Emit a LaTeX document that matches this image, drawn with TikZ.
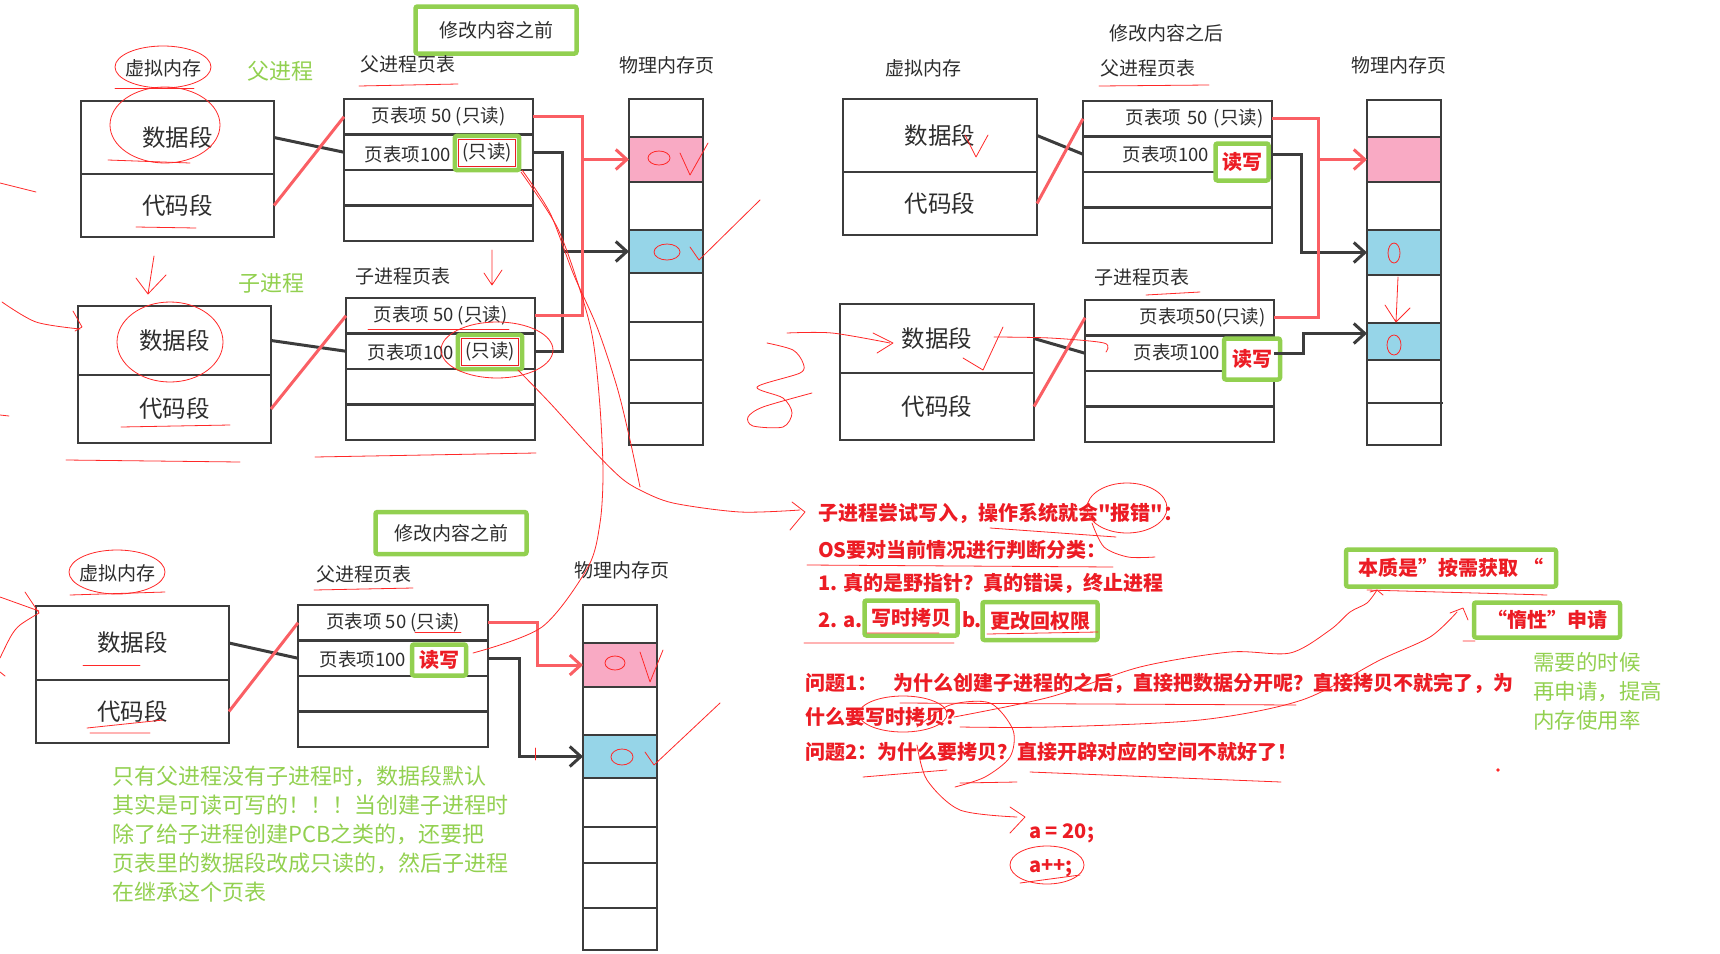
\documentclass[tikz,border=0pt]{standalone}
\usepackage{fontspec}
\setmainfont{Noto Sans CJK SC}[Ligatures=TeXOff]
\usepackage{xcolor}
\usetikzlibrary{positioning, arrows.meta, fit, calc}

\definecolor{boxgreen}{RGB}{146,208,80}
\definecolor{inkred}{RGB}{236,28,36}
\definecolor{penred}{RGB}{255,40,40}
\definecolor{linkred}{RGB}{250,95,100}
\definecolor{frame}{RGB}{60,60,60}
\definecolor{labelgray}{RGB}{45,45,45}
\definecolor{pinkcell}{RGB}{249,170,196}
\definecolor{bluecell}{RGB}{150,213,232}

\begin{document}
\begin{tikzpicture}[
    x=1pt, y=-1pt,
    lbl/.style={text=labelgray, font=\fontsize{19}{19}\selectfont, inner sep=1pt},
    glbl/.style={text=boxgreen, font=\fontsize{22}{22}\selectfont, inner sep=1pt},
    seg/.style={
        draw=frame, line width=2.5pt, minimum width=193, outer sep=0pt,
        text=labelgray, font=\fontsize{23.5}{23.5}\selectfont
    },
    row/.style={
        draw=frame, line width=2.5pt, minimum width=189, minimum height=35.5,
        outer sep=0pt, inner sep=0pt, text=labelgray, font=\fontsize{18.5}{18.5}\selectfont
    },
    entry/.style={text=labelgray, font=\fontsize{18.5}{18.5}\selectfont, inner sep=0pt},
    ro/.style={draw=inkred, line width=1.2pt, minimum width=57, minimum height=27,
        inner sep=1pt, text=labelgray, font=\fontsize{18.5}{18.5}\selectfont},
    pm/.style={draw=frame, line width=2.5pt, minimum width=74, outer sep=0pt, inner sep=0pt},
    gbox/.style={draw=boxgreen, line width=4.5pt, rounded corners=2pt},
    rtxt/.style={text=inkred, font=\fontsize{20}{20}\selectfont\bfseries, inner sep=1pt},
    gtxt/.style={text=boxgreen, font=\fontsize{22}{29}\selectfont, inner sep=0pt},
    link/.style={line width=3pt},
    tip/.style={line width=3pt, -{Straight Barb[length=11pt, width=20pt]}},
    scrib/.style={draw=penred, line width=0.8pt, line cap=round, line join=round}
]
\useasboundingbox (0,0) rectangle (1720,953);

% Top left: before the change, parent and child
\node[gbox, lbl, minimum width=161, minimum height=47] (titleA) at (496,30) {修改内容之前};
\node[lbl] (vmtA) at (163,68) {虚拟内存};
\node[glbl] (parA) at (280,71) {父进程};
\node[lbl] (ptA) at (408,64) {父进程页表};
\node[lbl] (pmtA) at (667,65) {物理内存页};

\node[seg, minimum height=73, anchor=north west] (dataA) at (81,101) {数据段};
\node[seg, minimum height=63, below=0pt of dataA] (codeA) {代码段};

\node[row, anchor=north west] (rowA1) at (344,99) {页表项 50 (只读)};
\node[row, below=0pt of rowA1] (rowA2) {};
\node[row, below=0pt of rowA2] (rowA3) {};
\node[row, below=0pt of rowA3] (rowA4) {};
\node[entry] (txtA2) at (408,154) {页表项100};
\node[ro] (roA) at (487,153) {(只读)};
\node[gbox, fit=(roA), inner sep=3pt] (roboxA) {};

\node[glbl] (chiA) at (271,283) {子进程};
\node[lbl] (ctA) at (403,276) {子进程页表};

\node[seg, minimum height=69, anchor=north west] (dataB) at (78,306) {数据段};
\node[seg, minimum height=68, below=0pt of dataB] (codeB) {代码段};

\node[row, anchor=north west] (rowB1) at (346,298) {页表项 50 (只读)};
\node[row, below=0pt of rowB1] (rowB2) {};
\node[row, below=0pt of rowB2] (rowB3) {};
\node[row, below=0pt of rowB3] (rowB4) {};
\node[entry] (txtB2) at (411,352) {页表项100};
\node[ro] (roB) at (490,352) {(只读)};
\node[gbox, fit=(roB), inner sep=3pt] (roboxB) {};

\node[pm, minimum height=346, anchor=north west] (pmA) at (629,99) {};
\node[pm, fill=pinkcell, minimum height=45, anchor=north west] (pinkA) at (629,137) {};
\node[pm, fill=bluecell, minimum height=43, anchor=north west] (blueA) at (629,230) {};
\draw[frame, line width=2.5pt] (629,322) -- ++(74,0) (629,360) -- ++(74,0) (629,403) -- ++(74,0);

\draw[link, frame] (dataA.east) -- (rowA2.west);
\draw[link, linkred] (codeA.east) -- (rowA1.west);
\draw[link, frame] (dataB.east) -- (rowB2.west);
\draw[link, linkred] (codeB.east) -- (rowB1.west);

\draw[link, frame] (rowA2.east) -- ++(29,0) coordinate (bA) |- (rowB2.east);
\draw[tip, frame] (blueA.west -| bA) -- (blueA.west);
\draw[link, linkred] (rowA1.east) -- ++(49,0) coordinate (rA) |- (rowB1.east);
\draw[tip, linkred] (pinkA.west -| rA) -- (pinkA.west);

% Top right: after the change
\node[lbl] (titleC) at (1166,33) {修改内容之后};
\node[lbl] (vmtC) at (923,68) {虚拟内存};
\node[lbl] (ptC) at (1148,68) {父进程页表};
\node[lbl] (pmtC) at (1399,65) {物理内存页};

\node[seg, minimum width=194, minimum height=73, anchor=north west] (dataC) at (843,99) {数据段};
\node[seg, minimum width=194, minimum height=63, below=0pt of dataC] (codeC) {代码段};

\node[row, text width=172pt, align=right, anchor=north west] (rowC1) at (1083,101) {页表项 50 (只读)};
\node[row, below=0pt of rowC1] (rowC2) {};
\node[row, below=0pt of rowC2] (rowC3) {};
\node[row, below=0pt of rowC3] (rowC4) {};
\node[entry] (txtC2) at (1166,154) {页表项100};
\node[gbox, rtxt, fill=white, minimum width=53, minimum height=37] (rwC) at (1242,162) {读写};

\node[lbl] (ctC) at (1142,277) {子进程页表};

\node[seg, minimum width=194, minimum height=69, anchor=north west] (dataD) at (840,304) {数据段};
\node[seg, minimum width=194, minimum height=67, below=0pt of dataD] (codeD) {代码段};

\node[row, text width=172pt, align=right, anchor=north west] (rowD1) at (1085,300) {页表项50(只读)};
\node[row, below=0pt of rowD1] (rowD2) {};
\node[row, below=0pt of rowD2] (rowD3) {};
\node[row, below=0pt of rowD3] (rowD4) {};
\node[entry] (txtD2) at (1177,352) {页表项100};
\node[gbox, rtxt, fill=white, minimum width=56, minimum height=41] (rwD) at (1252,359) {读写};

\node[pm, minimum height=345, anchor=north west] (pmC) at (1367,100) {};
\node[pm, fill=pinkcell, minimum height=45, anchor=north west] (pinkC) at (1367,137) {};
\node[pm, fill=bluecell, minimum height=45, anchor=north west] (blueC1) at (1367,230) {};
\node[pm, fill=bluecell, minimum height=37, anchor=north west] (blueC2) at (1367,323) {};
\draw[frame, line width=2.5pt] (1367,403) -- ++(76,0);

\draw[link, frame] (dataC.east) -- (rowC2.west);
\draw[link, linkred] (codeC.east) -- (rowC1.west);
\draw[link, frame] (dataD.east) -- (rowD2.west);
\draw[link, linkred] (codeD.east) -- (rowD1.west);

\draw[tip, frame] (rowC2.east) -- ++(29,0) |- (blueC1.west);
\draw[tip, frame] (rowD2.east) -- ++(29,0) |- ([yshift=8pt]blueC2.west);
\draw[link, linkred] (rowC1.east) -- ++(46,0) coordinate (rC) |- (rowD1.east);
\draw[tip, linkred] (pinkC.west -| rC) -- (pinkC.west);

% Bottom left: parent only
\node[gbox, lbl, minimum width=151, minimum height=42] (titleE) at (451,533) {修改内容之前};
\node[lbl] (vmtE) at (117,573) {虚拟内存};
\node[lbl] (ptE) at (364,574) {父进程页表};
\node[lbl] (pmtE) at (622,570) {物理内存页};

\node[seg, minimum height=74, anchor=north west] (dataE) at (36,606) {数据段};
\node[seg, minimum height=63, below=0pt of dataE] (codeE) {代码段};

\node[row, minimum width=190, anchor=north west] (rowE1) at (298,605) {页表项 50 (只读)};
\node[row, minimum width=190, below=0pt of rowE1] (rowE2) {};
\node[row, minimum width=190, below=0pt of rowE2] (rowE3) {};
\node[row, minimum width=190, below=0pt of rowE3] (rowE4) {};
\node[entry] (txtE2) at (363,659) {页表项100};
\node[gbox, rtxt, fill=white, minimum width=54, minimum height=31] (rwE) at (439,660) {读写};

\node[pm, minimum height=345, anchor=north west] (pmE) at (583,605) {};
\node[pm, fill=pinkcell, minimum height=44, anchor=north west] (pinkE) at (583,643) {};
\node[pm, fill=bluecell, minimum height=43, anchor=north west] (blueE) at (583,735) {};
\draw[frame, line width=2.5pt] (583,827) -- ++(74,0) (583,863) -- ++(74,0) (583,908) -- ++(74,0);

\draw[link, frame] (dataE.east) -- (rowE2.west);
\draw[link, linkred] (codeE.east) -- (rowE1.west);
\draw[tip, frame] (rowE2.east) -- ++(31,0) |- (blueE.west);
\draw[tip, linkred] (rowE1.east) -- ++(49,0) |- (pinkE.west);

\node[gtxt, anchor=north west, align=left] (noteE) at (112,766) {只有父进程没有子进程时，数据段默认\\其实是可读可写的！！！当创建子进程时\\除了给子进程创建PCB之类的，还要把\\页表里的数据段改成只读的，然后子进程\\在继承这个页表};

% Right: notes
\node[rtxt, anchor=west] (errA) at (817,513) {子进程尝试写入，操作系统就会"报错"：};
\node[rtxt, anchor=west] (errB) at (817,550) {OS要对当前情况进行判断分类：};
\node[rtxt, anchor=west] (errC) at (817,583) {1. 真的是野指针？真的错误，终止进程};
\node[rtxt, anchor=west] (errD) at (817,620) {2. a.};
\node[gbox, rtxt, minimum width=93, minimum height=35] (cow) at (911,618) {写时拷贝};
\node[rtxt] (errE) at (972,620) {b.};
\node[gbox, rtxt, minimum width=115, minimum height=38] (perm) at (1040,621) {更改回权限};

\node[gbox, rtxt, minimum width=210, minimum height=37] (essence) at (1451,568) {本质是”按需获取 “};
\node[gbox, rtxt, minimum width=146, minimum height=35] (lazy) at (1547,620) {“惰性”申请};
\node[gtxt, font=\fontsize{21.5}{29}\selectfont, anchor=north west, align=left] (lazyNote) at (1533,652) {需要的时候\\再申请，提高\\内存使用率};

\node[rtxt, anchor=west] (qA) at (804,683) {问题1：\hspace{0.8em}为什么创建子进程的之后，直接把数据分开呢？直接拷贝不就完了，为};
\node[rtxt, anchor=west] (qB) at (804,717) {什么要写时拷贝？};
\node[rtxt, anchor=west] (qC) at (804,752) {问题2：为什么要拷贝？直接开辟对应的空间不就好了！};
\node[rtxt, anchor=west] (codeX) at (1028,833) {a = 20;};
\node[rtxt, anchor=west] (codeY) at (1028,868) {a++;};

% hand marks, top left
\draw[scrib] (163,67) ellipse (48 and 21);
\draw[scrib] (115,88) -- (194,88);
\draw[scrib] (165,125) ellipse (55 and 38);
\draw[scrib] (108,160) -- (190,163);
\draw[scrib] (136,227) -- (196,228);
\draw[scrib] (359,86) -- (458,84);
\draw[scrib] (170,342) ellipse (53 and 40);
\draw[scrib] (121,427) -- (230,425);
\draw[scrib] (368,329) -- (509,329);
\draw[scrib] (315,457) -- (536,453);
\draw[scrib] (66,460) -- (240,462);
\draw[scrib] (492,250) -- (492,285) (484,273) -- (492,285) -- (502,270);
\draw[scrib] (154,256) -- (148,294) (136,278) -- (148,294) -- (166,275);
\draw[scrib] (0,183) -- (36,192);
\draw[scrib] plot[smooth] coordinates {(2,302) (36,322) (80,329)};
\draw[scrib] (73,311) -- (82,327) -- (75,331);
\draw[scrib] (0,415) -- (9,416);
\draw[scrib] (659,158) ellipse (11 and 7);
\draw[scrib] (680,153) -- (690,175) -- (708,143);
\draw[scrib] (667,252) ellipse (13 and 8);
\draw[scrib] (690,247) -- (699,260) -- (760,200);
\draw[scrib] (497,350) ellipse (56 and 28);
\draw[scrib] plot[smooth] coordinates {(522,170) (550,213) (573,273) (597,327) (617,387) (630,440) (640,487)};
\draw[scrib] plot[smooth] coordinates {(518,370) (550,403) (590,447) (620,477) (640,490) (673,503) (740,512) (800,510)};
\draw[scrib] (792,502) -- (805,512) -- (790,530);
\draw[scrib] plot[smooth] coordinates {(521,172) (557,227) (580,290) (593,340) (600,407) (603,473) (600,523) (588,567) (542,627) (473,653)};
\draw[scrib] plot[smooth] coordinates {(767,343) (793,350) (803,363) (800,373) (757,387) (783,398) (792,413) (783,427) (753,426) (748,417) (763,407) (812,393)};

% hand marks, top right
\draw[scrib] plot[smooth] coordinates {(787,333) (832,333) (890,343)};
\draw[scrib] (873,333) -- (893,343) -- (877,353);
\draw[scrib] (963,358) -- (983,370) -- (1003,327);
\draw[scrib] plot[smooth] coordinates {(994,337) (1050,338) (1104,343) (1106,352)};
\draw[scrib] (965,135) -- (976,157) -- (988,135);
\draw[scrib] (1398,277) -- (1396,322) (1385,305) -- (1396,322) -- (1410,308);
\draw[scrib] (1394,253) ellipse (6 and 10);
\draw[scrib] (1394,345) ellipse (7 and 10);
\draw[scrib] (1099,86) -- (1209,85);
\draw[scrib] (1146,295) -- (1200,292);

% hand marks, bottom left
\draw[scrib] (117,572) ellipse (48 and 22);
\draw[scrib] (70,595) -- (165,592);
\draw[scrib] (314,590) -- (413,588);
\draw[scrib] (83,665) -- (140,665);
\draw[scrib] (87,728) -- (163,720) (90,733) -- (150,733);
\draw[scrib] (415,632) -- (461,632);
\draw[scrib] (615,663) ellipse (10 and 7);
\draw[scrib] (640,652) -- (650,682) -- (663,650);
\draw[scrib] (622,757) ellipse (11 and 8);
\draw[scrib] (645,752) -- (654,765) -- (720,703);
\draw[scrib] (0,597) -- (39,611) (25,592) -- (39,613);
\draw[scrib] plot[smooth] coordinates {(39,613) (20,625) (11,636) (0,658)};
\draw[scrib] (0,672) -- (5,676);
\draw[scrib] (535,748) -- (535,760);

% hand marks, notes
\draw[scrib] (1127,508) ellipse (40 and 25);
\draw[scrib] plot[smooth] coordinates {(1092,523) (1104,547) (1128,557) (1155,557)};
\draw[scrib] (990,528) -- (1116,537);
\draw[scrib] (807,565) -- (1113,567);
\draw[scrib] (804,643) -- (954,643) (987,634) -- (1098,632) (867,633) -- (939,633);
\draw[scrib] (1367,590) -- (1547,595) (1463,641) -- (1475,641);
\draw[scrib] (900,703) -- (1296,705);
\draw[scrib] plot[smooth] coordinates {(954,717) (1050,697) (1140,667) (1230,652) (1290,653) (1330,630) (1350,612) (1367,603) (1377,590)};
\draw[scrib] (1370,592) -- (1377,590) -- (1383,595);
\draw[scrib] plot[smooth] coordinates {(960,727) (1050,727) (1200,720) (1302,700) (1380,660) (1430,637) (1457,612)};
\draw[scrib] (1450,613) -- (1463,608) -- (1468,620);
\draw[scrib] (903,714) ellipse (44 and 18);
\draw[scrib] plot[smooth] coordinates {(917,727) (950,705) (990,703) (1013,730) (1010,757) (985,777) (955,787)};
\draw[scrib] plot[smooth] coordinates {(917,745) (927,780) (960,810) (1017,817)};
\draw[scrib] (1010,807) -- (1025,817) -- (1010,833);
\draw[scrib] (863,777) -- (947,770) (960,783) -- (1017,782) (1030,772) -- (1281,782);
\draw[scrib] (1047,865) ellipse (37 and 19);
\draw[scrib] (1020,883) -- (1080,875);
\fill[penred] (1498,770) circle (1.8);

\end{tikzpicture}
\end{document}
